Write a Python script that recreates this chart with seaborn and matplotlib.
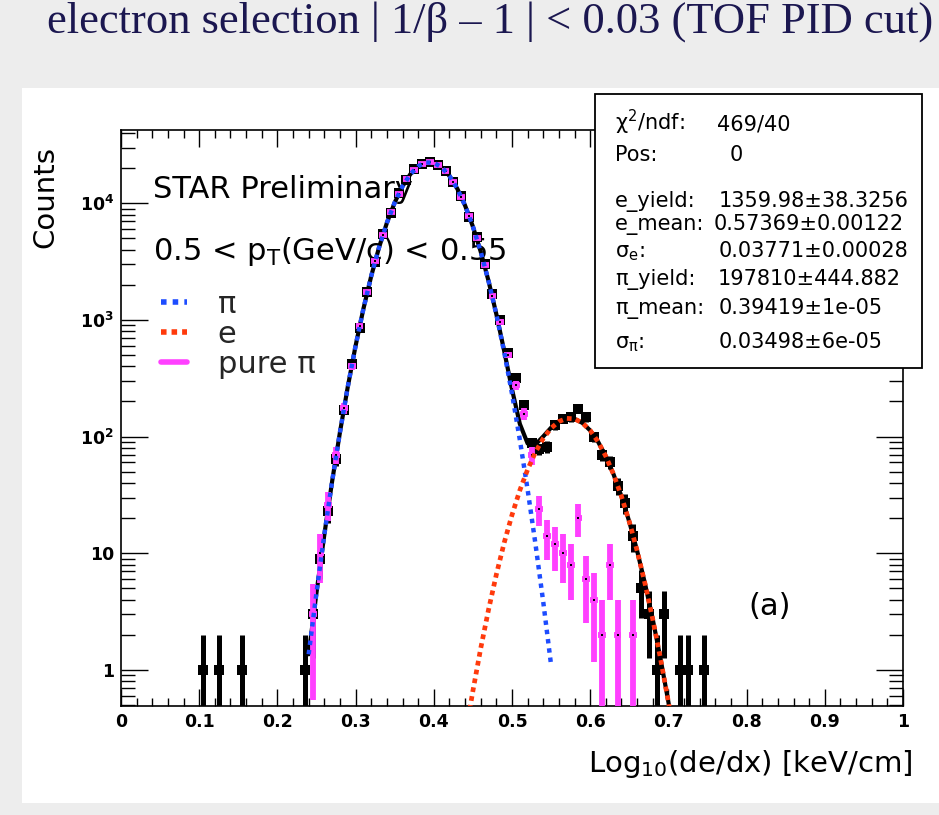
import numpy as np
import pandas as pd
import matplotlib
matplotlib.use("Agg")
import matplotlib.pyplot as plt
from matplotlib.patches import Rectangle
from matplotlib.lines import Line2D
from matplotlib.ticker import MultipleLocator, LogLocator, NullFormatter
import seaborn as sns

# ---------------- data ----------------
bin_centers = [0.105, 0.125, 0.155, 0.235,
               0.245, 0.255, 0.265, 0.275, 0.285, 0.295, 0.305, 0.315, 0.325, 0.335,
               0.345, 0.355, 0.365, 0.375, 0.385, 0.395, 0.405, 0.415, 0.425, 0.435,
               0.445, 0.455, 0.465, 0.475, 0.485, 0.495, 0.505, 0.515, 0.525, 0.535,
               0.545, 0.555, 0.565, 0.575, 0.585, 0.595, 0.605, 0.615, 0.625, 0.635,
               0.645, 0.655, 0.665, 0.675, 0.685, 0.695,
               0.715, 0.725, 0.745]
counts = [1, 1, 1, 1,
          3, 9, 23, 64, 170, 420, 860, 1750, 3150, 5450,
          8300, 12200, 15800, 19600, 21700, 22700, 21400, 19100, 15100, 11600,
          7700, 5150, 3000, 1680, 1000, 520, 320, 185, 88, 78,
          82, 125, 142, 146, 172, 146, 100, 70, 60, 38,
          27, 14, 5, 3, 1, 3,
          1, 1, 1]

pure_pi_x = [0.245, 0.255, 0.265, 0.275, 0.285, 0.295, 0.305, 0.315, 0.325, 0.335,
             0.345, 0.355, 0.365, 0.375, 0.385, 0.395, 0.405, 0.415, 0.425, 0.435,
             0.445, 0.455, 0.465, 0.475, 0.485, 0.495, 0.505, 0.515, 0.525, 0.535,
             0.545, 0.555, 0.565, 0.575, 0.585, 0.595, 0.605, 0.615, 0.625, 0.635,
             0.655]
pure_pi_y = [3, 10, 26, 70, 175, 400, 880, 1720, 3200, 5350,
             8450, 12000, 16000, 19400, 21800, 22500, 21500, 18900, 15300, 11400,
             7800, 5000, 2950, 1620, 966, 500, 276, 157, 69, 24,
             14, 12, 10, 8, 20, 6, 4, 2, 8, 2,
             2]
pure_pi_weight = 2  # entries carry weight 2 -> error sqrt(2*value)

pi_fit_x = [0.24, 0.25, 0.26, 0.27, 0.28, 0.29, 0.30, 0.31, 0.32, 0.33, 0.34,
            0.35, 0.36, 0.37, 0.38, 0.39, 0.40, 0.41, 0.42, 0.43, 0.44, 0.45,
            0.46, 0.47, 0.48, 0.49, 0.50, 0.51, 0.52, 0.53, 0.54, 0.55]
pi_fit_y = [1.36, 4.6, 14.4, 41.4, 109, 267, 601, 1246, 2380, 4189, 6795,
            10157, 13992, 17762, 20778, 22399, 22251, 20370, 17184, 13358, 9570, 6319,
            3844, 2155, 1113, 530, 233, 94, 35, 12.0, 3.8, 1.1]

e_fit_x = [0.44, 0.45, 0.46, 0.47, 0.48, 0.49, 0.50, 0.51, 0.52, 0.53, 0.54,
           0.55, 0.56, 0.57, 0.58, 0.59, 0.60, 0.61, 0.62, 0.63, 0.64, 0.65,
           0.66, 0.67, 0.68, 0.69, 0.70, 0.71]
e_fit_y = [0.27, 0.66, 1.53, 3.28, 6.57, 12.3, 21.3, 34.6, 52.2, 73.5, 96.6,
           118.1, 134.7, 143.2, 141.9, 131.0, 112.8, 90.5, 67.7, 47.2, 30.7, 18.6,
           10.5, 5.52, 2.71, 1.24, 0.53, 0.21]

x_ticks = [0, 0.1, 0.2, 0.3, 0.4, 0.5, 0.6, 0.7, 0.8, 0.9, 1.0]
x_tick_labels = ["0", "0.1", "0.2", "0.3", "0.4", "0.5", "0.6", "0.7", "0.8", "0.9", "1"]
y_ticks = [1, 10, 100, 1000, 10000]
y_tick_labels = ["1", "10", r"$\mathbf{10^{2}}$", r"$\mathbf{10^{3}}$", r"$\mathbf{10^{4}}$"]

stats_labels = [r"$\chi^{2}$/ndf:", "Pos:", "e_yield:", "e_mean:", r"σ$_{\rm e}$:",
                "π_yield:", "π_mean:", r"σ$_{π}$:"]
stats_values = ["469/40", "0", "1359.98±38.3256", "0.57369±0.00122", "0.03771±0.00028",
                "197810±444.882", "0.39419±1e-05", "0.03498±6e-05"]

legend_labels = ["π", "e", "pure π"]

# ---------------- style ----------------
sns.set_theme(style="ticks")
plt.rcParams["font.family"] = ["DejaVu Sans"]
plt.rcParams["mathtext.fontset"] = "dejavusans"
plt.rcParams["mathtext.default"] = "regular"

C_BLUE = "#1d4cff"
C_RED = "#ff3a0c"
C_MAG = "#ff40ff"

W, H = 939, 815
fig = plt.figure(figsize=(W / 100, H / 100), dpi=100, facecolor="#ededed")

# white panel
fig.add_artist(Rectangle((22 / W, 12 / H), (W - 22) / W, (803 - 88) / H,
                         transform=fig.transFigure, facecolor="white",
                         edgecolor="none", zorder=-5))

ax_l, ax_r, ax_t, ax_b = 121, 903, 130, 706
ax = fig.add_axes([ax_l / W, (H - ax_b) / H, (ax_r - ax_l) / W, (ax_b - ax_t) / H])
ax.set_facecolor("white")
ax.set_yscale("log")

# data histogram (black)
df = pd.DataFrame({"x": bin_centers, "n": counts})
ax.errorbar(df["x"], df["n"], xerr=0.005, yerr=np.sqrt(df["n"]), fmt="none",
            ecolor="black", elinewidth=3.6, capsize=0, zorder=2)
sns.scatterplot(data=df, x="x", y="n", marker="s", s=45, color="black",
                linewidth=0, ax=ax, zorder=3, legend=False)

# total fit (black solid)
pi_s = pd.Series(pi_fit_y, index=np.round(pi_fit_x, 3))
e_s = pd.Series(e_fit_y, index=np.round(e_fit_x, 3))
tot = pd.concat([pi_s, e_s], axis=1).fillna(0).sum(axis=1)
tot_df = pd.DataFrame({"x": tot.index.values, "y": tot.values})
sns.lineplot(data=tot_df, x="x", y="y", color="black", lw=3.0, ax=ax,
             zorder=4, legend=False)

# pure pion (magenta)
pp = pd.DataFrame({"x": pure_pi_x, "y": pure_pi_y})
ax.errorbar(pp["x"], pp["y"], xerr=0.005, yerr=np.sqrt(pure_pi_weight * pp["y"]),
            fmt="none", ecolor=C_MAG, elinewidth=4.2, capsize=0, zorder=5)
sns.scatterplot(data=pp, x="x", y="y", marker="s", s=2.5, color="black",
                linewidth=0, ax=ax, zorder=6, legend=False)

# fit components
pi_df = pd.DataFrame({"x": pi_fit_x, "y": pi_fit_y})
e_df = pd.DataFrame({"x": e_fit_x, "y": e_fit_y})
sns.lineplot(data=pi_df, x="x", y="y", color=C_BLUE, lw=3.2, ls=(0, (1, 1.1)),
             ax=ax, zorder=7, legend=False)
sns.lineplot(data=e_df, x="x", y="y", color=C_RED, lw=3.4, ls=(0, (1, 0.9)),
             ax=ax, zorder=8, legend=False)

# axes
ax.set_xlim(0, 1)
ax.set_ylim(0.49, 42500)
ax.set_xticks(x_ticks, x_tick_labels)
ax.xaxis.set_minor_locator(MultipleLocator(0.02))
ax.set_yticks(y_ticks, y_tick_labels)
ax.yaxis.set_minor_locator(LogLocator(base=10, subs=np.arange(2, 10), numticks=30))
ax.yaxis.set_minor_formatter(NullFormatter())
ax.tick_params(which="both", direction="in", top=True, right=True, width=1.0,
               color="black", labelcolor="black")
ax.tick_params(axis="x", which="major", length=12.5, pad=5, labelsize=12.5)
ax.tick_params(axis="x", which="minor", length=6)
ax.tick_params(axis="y", which="major", length=19.5, pad=5, labelsize=12.5)
ax.tick_params(axis="y", which="minor", length=10)
for lab in ax.get_xticklabels() + ax.get_yticklabels():
    lab.set_fontweight("bold")
for sp in ax.spines.values():
    sp.set_linewidth(1.2)
    sp.set_color("black")

ax.set_xlabel(r"Log$_{10}$(de/dx) [keV/cm]", fontsize=21, color="black")
ax.xaxis.label.set_ha("right")
ax.xaxis.label.set_va("baseline")
ax.xaxis.set_label_coords((913 - ax_l) / (ax_r - ax_l), (ax_b - 772) / (ax_b - ax_t))
ax.set_ylabel("Counts", fontsize=21, color="black")
ax.yaxis.label.set_ha("center")
ax.yaxis.label.set_va("center")
ax.yaxis.set_label_coords((45 - ax_l) / (ax_r - ax_l), (ax_b - 197) / (ax_b - ax_t))

def ax_pt(px, py):
    return (px - ax_l) / (ax_r - ax_l), (ax_b - py) / (ax_b - ax_t)

ax.text(*ax_pt(153, 198), "STAR Preliminary", transform=ax.transAxes, fontsize=22,
        va="baseline", ha="left", color="black", zorder=1)
ax.text(*ax_pt(153, 260), r"0.5 < p$_{\rm T}$(GeV/c) < 0.55", transform=ax.transAxes,
        fontsize=22, va="baseline", ha="left", color="black", zorder=1)
ax.text(*ax_pt(748, 615), "(a)", transform=ax.transAxes, fontsize=22,
        va="baseline", ha="left", color="black")

handles = [Line2D([], [], color=C_BLUE, lw=4, ls=(0, (1, 1.1))),
           Line2D([], [], color=C_RED, lw=4, ls=(0, (1, 0.9))),
           Line2D([], [], color=C_MAG, lw=4)]
leg = ax.legend(handles, legend_labels, loc="upper left",
                bbox_to_anchor=ax_pt(161, 290), frameon=False, fontsize=22,
                handlelength=0.85, handletextpad=1.0, labelspacing=0.03,
                borderpad=0, borderaxespad=0)

# stats box
bx0, by0, bx1, by1 = 595, 94, 922, 368
fig.add_artist(Rectangle((bx0 / W, (H - by1) / H), (bx1 - bx0) / W, (by1 - by0) / H,
                         transform=fig.transFigure, facecolor="white",
                         edgecolor="black", lw=1.3, zorder=20))
row_base = [130, 161, 207, 230, 257, 285, 314, 348]
val_x = [717, 730, 719, 714, 719, 718, 719, 719]
for lab, val, yb, vx in zip(stats_labels, stats_values, row_base, val_x):
    fig.text(615 / W, (H - yb) / H, lab, fontsize=15, va="baseline", ha="left",
             color="black", zorder=21)
    fig.text(vx / W, (H - yb) / H, val, fontsize=15, va="baseline", ha="left",
             color="black", zorder=21)

# title
fig.text(47 / W, (H - 33) / H, "electron selection | 1/β – 1 | < 0.03 (TOF PID cut)",
         fontfamily="Liberation Serif", fontsize=32, color="#1b1750",
         va="baseline", ha="left")

fig.savefig("out.png", dpi=100, facecolor=fig.get_facecolor())
